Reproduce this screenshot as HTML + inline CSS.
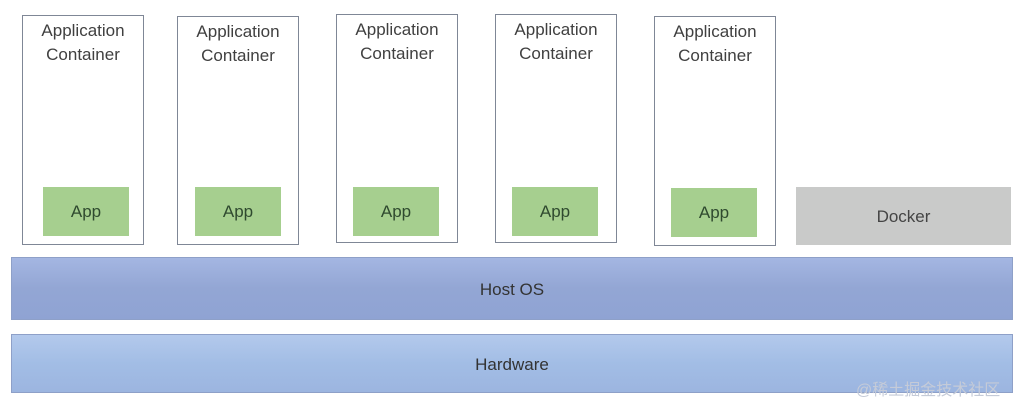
<!DOCTYPE html>
<html><head><style>
body{margin:0;width:1024px;height:404px;background:#fff;position:relative;overflow:hidden;font-family:"Liberation Sans","DejaVu Sans",sans-serif;}
.c{position:absolute;border:1.5px solid #7f8796;box-sizing:border-box;background:#fff;text-align:center;color:#404040;font-size:17px;line-height:24px;padding-top:3px;}
.a{position:absolute;background:#a6cf8f;color:#2f4a2f;font-size:17px;text-align:center;line-height:49px;width:86px;height:49px;}
.b{position:absolute;left:11px;width:1002px;text-align:center;color:#333;font-size:17px;box-sizing:border-box;border:1px solid #8ea0c8;}
</style></head><body>
<div class="c" style="left:22px;top:15px;width:122px;height:230px">Application<br>Container</div>
<div class="c" style="left:177px;top:16px;width:122px;height:229px">Application<br>Container</div>
<div class="c" style="left:336px;top:14px;width:122px;height:229px">Application<br>Container</div>
<div class="c" style="left:495px;top:14px;width:122px;height:229px">Application<br>Container</div>
<div class="c" style="left:654px;top:16px;width:122px;height:230px">Application<br>Container</div>
<div class="a" style="left:43px;top:187px">App</div>
<div class="a" style="left:195px;top:187px">App</div>
<div class="a" style="left:353px;top:187px">App</div>
<div class="a" style="left:512px;top:187px">App</div>
<div class="a" style="left:671px;top:188px">App</div>
<div style="position:absolute;left:796px;top:187px;width:215px;height:58px;background:#c9cac9;color:#444;font-size:17px;text-align:center;line-height:60px">Docker</div>
<div class="b" style="top:257px;height:63px;line-height:63px;background:linear-gradient(#a4b6e2,#93a6d4 50%,#8fa3d3)">Host OS</div>
<div class="b" style="top:334px;height:59px;line-height:59px;background:linear-gradient(#b3c9ec,#a2bde5 50%,#9cb5e0)">Hardware</div>
<div style="position:absolute;left:856px;top:376px;font-size:16px;color:#c5cbd8;font-family:'Liberation Sans','Noto Sans CJK SC',sans-serif">@稀土掘金技术社区</div>
</body></html>
